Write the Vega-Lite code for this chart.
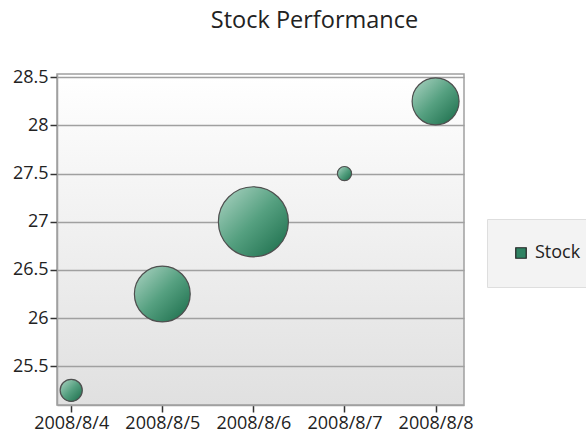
{
  "$schema": "https://vega.github.io/schema/vega-lite/v6.json",
  "autosize": {"type": "none"},
  "padding": {"left": 57, "top": 74, "right": 122, "bottom": 31},
  "width": 407,
  "height": 331,
  "background": "#ffffff",
  "title": {
    "text": "Stock Performance",
    "font": "Open Sans",
    "fontSize": 23.5,
    "fontWeight": "normal",
    "color": "#222222",
    "anchor": "middle",
    "frame": "group",
    "dx": 54,
    "baseline": "alphabetic",
    "offset": 17
  },
  "view": {
    "fill": {"gradient": "linear", "x1": 0, "y1": 0, "x2": 0, "y2": 1,
      "stops": [{"offset": 0, "color": "#ffffff"}, {"offset": 1, "color": "#e0e0e0"}]},
    "stroke": "#a0a0a0",
    "strokeWidth": 1.5
  },
  "data": {
    "values": [
      {"date": 4, "price": 25.25, "volume": 1.56, "series": "Stock"},
      {"date": 5, "price": 26.25, "volume": 9.92, "series": "Stock"},
      {"date": 6, "price": 27.0, "volume": 15.6, "series": "Stock"},
      {"date": 7, "price": 27.5, "volume": 0.64, "series": "Stock"},
      {"date": 8, "price": 28.25, "volume": 7.02, "series": "Stock"}
    ]
  },
  "encoding": {
    "x": {
      "field": "date",
      "type": "quantitative",
      "scale": {"domain": [3.844, 8.312], "nice": false, "zero": false},
      "axis": {
        "title": null,
        "values": [4, 5, 6, 7, 8],
        "labelExpr": "'2008/8/' + datum.value",
        "grid": false,
        "labelFlush": false,
        "labelOverlap": false
      }
    },
    "y": {
      "field": "price",
      "type": "quantitative",
      "scale": {"domain": [25.098, 28.534], "nice": false, "zero": false},
      "axis": {
        "title": null,
        "values": [25.5, 26, 26.5, 27, 27.5, 28, 28.5],
        "format": "~g",
        "grid": true,
        "labelFlush": false,
        "labelOverlap": false
      }
    },
    "size": {
      "field": "volume",
      "type": "quantitative",
      "scale": {"domain": [0, 16], "range": [0, 5026.5], "zero": true},
      "legend": null
    }
  },
  "layer": [
    {
      "mark": {"type": "point", "shape": "circle", "filled": true, "opacity": 1},
      "encoding": {
        "color": {
          "field": "series",
          "type": "nominal",
          "scale": {"range": ["#2f8262"]},
          "legend": {
            "title": null,
            "orient": "none",
            "legendX": 430,
            "legendY": 145,
            "padding": 25,
            "fillColor": "#f3f3f3",
            "strokeColor": "#dedede",
            "labelFont": "Open Sans",
            "labelFontSize": 18,
            "labelColor": "#222222",
            "labelOffset": 5,
            "symbolType": "square",
            "symbolSize": 110,
            "symbolStrokeColor": "#222222",
            "symbolStrokeWidth": 1.2,
            "encode": {
              "symbols": {
                "update": {
                  "fill": {"value": {"gradient": "linear", "x1": 0, "y1": 0, "x2": 1, "y2": 1,
                    "stops": [{"offset": 0, "color": "#7fbfa3"}, {"offset": 1, "color": "#1a6c4a"}]}},
                  "stroke": {"value": "#222222"},
                  "opacity": {"value": 1}
                }
              }
            }
          }
        }
      }
    },
    {
      "mark": {
        "type": "point",
        "shape": "circle",
        "filled": true,
        "opacity": 1,
        "fill": {"gradient": "linear", "x1": 0, "y1": 0, "x2": 1, "y2": 1,
          "stops": [{"offset": 0, "color": "#b0d6c6"}, {"offset": 0.5, "color": "#55a080"}, {"offset": 1, "color": "#186a48"}]},
        "stroke": "#505050",
        "strokeWidth": 1.2
      }
    }
  ],
  "config": {
    "axis": {
      "labelFont": "Open Sans",
      "labelFontSize": 18,
      "labelColor": "#222222",
      "domainColor": "#a0a0a0",
      "domainWidth": 1.5,
      "tickColor": "#333333",
      "tickWidth": 1.5,
      "tickSize": 7,
      "labelPadding": 2,
      "gridColor": "#a0a0a0",
      "gridWidth": 1.5
    }
  }
}
